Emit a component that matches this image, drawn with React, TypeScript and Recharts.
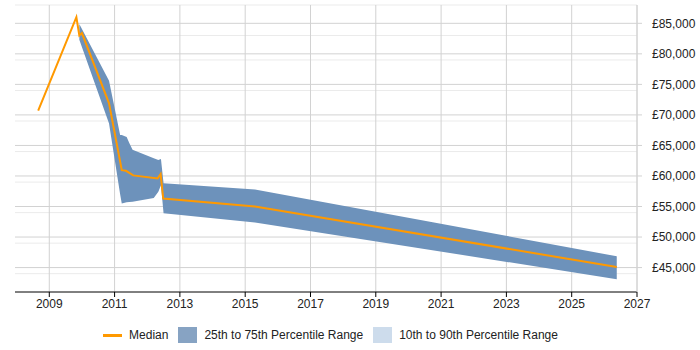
import { ComposedChart, Area, Line, XAxis, YAxis, CartesianGrid, Legend } from 'recharts';

// median salary points (year, £)
const medianYears = [2008.66, 2009.83, 2009.92, 2010.0, 2010.83, 2011.22, 2011.35, 2011.57, 2012.32, 2012.41, 2012.49, 2015.3, 2026.38];
const medianValues = [70700, 86000, 83000, 83400, 71900, 60950, 60850, 60100, 59600, 60300, 56300, 55000, 45100];

// 25th / 75th percentile band
const bandYears = [2009.92, 2010.83, 2011.17, 2011.22, 2011.37, 2011.45, 2011.55, 2012.2, 2012.34, 2012.42, 2012.5, 2015.3, 2026.38];
const bandLow = [82300, 68600, 57000, 55500, 55700, 55750, 55800, 56400, 57400, 58500, 53900, 52400, 43100];
const bandHigh = [84900, 75600, 66700, 66700, 66400, 65400, 64300, 62900, 62600, 62800, 58800, 57800, 46850];

const yearTicks = [2009, 2011, 2013, 2015, 2017, 2019, 2021, 2023, 2025, 2027];
const salaryTicks = [45000, 50000, 55000, 60000, 65000, 70000, 75000, 80000, 85000];
const minorTicks = [42000, 43000, 44000, 46000, 47000, 48000, 49000, 51000, 52000, 53000, 54000, 56000, 57000, 58000, 59000, 61000, 62000, 63000, 64000, 66000, 67000, 68000, 69000, 71000, 72000, 73000, 74000, 76000, 77000, 78000, 79000, 81000, 82000, 83000, 84000, 86000, 87000, 88000];

const medianData = medianYears.map((year, i) => ({ year, median: medianValues[i] }));
const bandData = bandYears.map((year, i) => ({ year, range: [bandLow[i], bandHigh[i]] }));

const font = 'Arial, "Liberation Sans", sans-serif';
const tick = { fill: '#222', fontSize: 12, fontFamily: font } as const;

const formatPounds = (v: number) => `£${v.toLocaleString('en-GB')}`;

function LegendRow() {
  const item = { display: 'flex', alignItems: 'center', marginRight: 10 } as const;
  const swatch = (bg: string) => ({ width: 19, height: 16, background: bg, marginRight: 7 });
  return (
    <div style={{ height: 30, display: 'flex', justifyContent: 'center', alignItems: 'center', fontFamily: font, fontSize: 12, color: '#222', paddingRight: 44 }}>
      <div style={item}>
        <div style={{ width: 19, height: 3, background: '#ff9900', marginRight: 7 }} />
        Median
      </div>
      <div style={item}>
        <div style={swatch('#87a3c3')} />
        25th to 75th Percentile Range
      </div>
      <div style={item}>
        <div style={swatch('#cddcec')} />
        10th to 90th Percentile Range
      </div>
    </div>
  );
}

export default function App() {
  return (
    <div style={{ position: 'absolute', left: 0, top: 0, background: '#fff' }}>
      <ComposedChart width={700} height={350} margin={{ top: 5, right: 0, bottom: 0, left: 15 }}>
        <CartesianGrid stroke="#ebebeb" horizontalValues={minorTicks} vertical={false} />
        <CartesianGrid stroke="#d2d2d2" horizontalValues={salaryTicks} verticalValues={yearTicks} />
        <XAxis
          type="number"
          dataKey="year"
          domain={[2007.95, 2027]}
          ticks={yearTicks}
          allowDataOverflow
          height={28}
          tick={tick}
          tickSize={5}
          tickMargin={2}
          axisLine={{ stroke: '#000' }}
          tickLine={{ stroke: '#000' }}
        />
        <YAxis
          orientation="right"
          domain={[41000, 88000]}
          ticks={salaryTicks}
          allowDataOverflow
          width={63}
          tick={{ ...tick, textAnchor: 'start' }}
          tickSize={5}
          tickMargin={10}
          tickFormatter={formatPounds}
          axisLine={{ stroke: '#d2d2d2' }}
          tickLine={{ stroke: '#d2d2d2' }}
        />
        <Legend verticalAlign="bottom" content={() => <LegendRow />} />
        <Area data={bandData} dataKey="range" type="linear" fill="#6d92bb" fillOpacity={1} stroke="none" isAnimationActive={false} />
        <Line data={medianData} dataKey="median" type="linear" stroke="#ff9900" strokeWidth={2} dot={false} isAnimationActive={false} />
      </ComposedChart>
    </div>
  );
}
